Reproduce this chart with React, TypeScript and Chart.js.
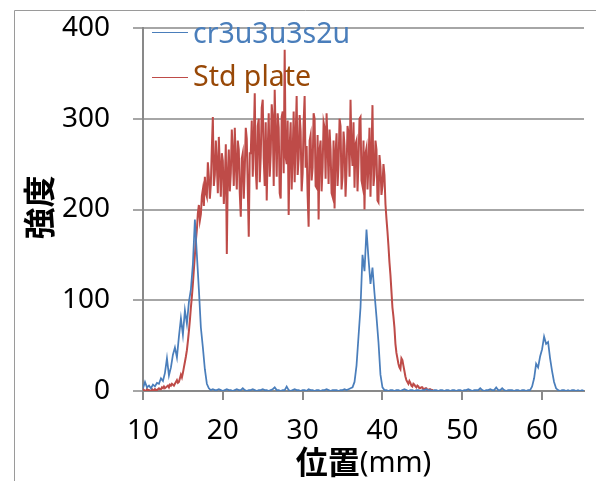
import React, { useEffect, useRef } from "react";
import { Chart, registerables } from "chart.js";

Chart.register(...registerables);

// sampling grids of the two profiles (mm)
const X_START = 10;
const BLUE_STEP = 0.25;
const RED_STEP = 0.125;
const X_MIN = 10;
const X_MAX = 65.25;
const xTicks = [10, 20, 30, 40, 50, 60];
const yTicks = [0, 100, 200, 300, 400];
const seriesNames = ["cr3u3u3s2u", "Std plate"];
const xTitleMain = "位置";
const xTitleUnit = "(mm)";
const yTitle = "強度";

// cr3u3u3s2u intensity, 10.00 mm .. 65.25 mm every 0.25 mm
const blueValues = [
  3, 10, 4, 6, 3, 7, 5, 9, // 10
  8, 14, 11, 20, 36, 17, 26, 40, // 12
  48, 37, 60, 80, 62, 89, 74, 98, // 14
  112, 140, 189, 150, 112, 70, 48, 24, // 16
  8, 3, 1, 2, 1, 1, 2, 1, // 18
  0, 1, 2, 1, 1, 0, 1, 2, // 20
  1, 1, 3, 1, 0, 1, 1, 2, // 22
  1, 0, 1, 1, 2, 1, 1, 0, // 24
  1, 2, 4, 1, 1, 0, 1, 1, // 26
  5, 1, 0, 1, 2, 1, 1, 0, // 28
  1, 1, 0, 2, 1, 1, 0, 1, // 30
  1, 0, 1, 1, 2, 1, 0, 1, // 32
  1, 1, 0, 1, 1, 2, 1, 2, // 34
  3, 4, 10, 28, 60, 92, 150, 132, // 36
  178, 146, 118, 136, 108, 82, 54, 18, // 38
  4, 1, 1, 0, 1, 1, 0, 1, // 40
  1, 0, 1, 2, 1, 0, 1, 1, // 42
  0, 1, 1, 0, 1, 1, 2, 1, // 44
  1, 0, 1, 1, 0, 1, 1, 0, // 46
  1, 1, 0, 1, 1, 0, 1, 1, // 48
  0, 1, 1, 2, 1, 0, 1, 1, // 50
  1, 3, 1, 0, 1, 1, 2, 1, // 52
  1, 4, 1, 1, 3, 1, 0, 1, // 54
  1, 1, 0, 1, 1, 0, 1, 1, // 56
  0, 1, 1, 5, 14, 30, 26, 38, // 58
  46, 60, 52, 54, 36, 22, 10, 3, // 60
  1, 0, 1, 1, 0, 1, 0, 1, // 62
  1, 0, 1, 0, 1, 0, // 64
];

// Std plate intensity, 10.000 mm .. 46.500 mm every 0.125 mm
const redValues = [
  0, 1, 0, 0, 2, 1, 1, 0, 0, 2, 1, 0, 2, 1, 1, 2, // 10
  3, 2, 2, 4, 3, 5, 3, 4, 5, 6, 4, 7, 6, 8, 7, 6, // 12
  8, 10, 12, 9, 10, 14, 18, 15, 20, 26, 32, 38, 45, 55, 66, 78, // 14
  92, 104, 118, 134, 150, 166, 178, 196, 205, 188, 195, 215, 222, 204, 236, 218, // 16
  214, 252, 236, 212, 228, 268, 302, 226, 238, 276, 250, 218, 280, 246, 214, 262, // 18
  254, 206, 232, 272, 151, 240, 266, 220, 240, 288, 262, 226, 290, 250, 222, 276, // 20
  266, 218, 192, 256, 262, 212, 244, 290, 278, 224, 170, 262, 262, 298, 236, 276, // 22
  328, 244, 222, 292, 300, 230, 258, 312, 321, 256, 226, 296, 210, 266, 306, 236, // 24
  262, 316, 300, 226, 332, 282, 236, 306, 290, 218, 212, 302, 308, 240, 376, 258, // 26
  250, 298, 194, 270, 296, 222, 262, 308, 230, 280, 325, 238, 256, 304, 286, 220, // 28
  240, 296, 325, 246, 270, 216, 181, 276, 282, 232, 246, 306, 300, 226, 224, 282, // 30
  189, 266, 276, 220, 246, 296, 290, 234, 306, 272, 228, 288, 266, 218, 214, 276, // 32
  201, 262, 284, 226, 250, 300, 292, 222, 236, 286, 270, 214, 244, 292, 284, 236, // 34
  321, 266, 248, 296, 224, 272, 276, 220, 254, 300, 302, 232, 226, 276, 200, 262, // 36
  268, 222, 250, 290, 214, 262, 315, 226, 238, 276, 266, 210, 208, 260, 247, 216, // 38
  226, 250, 238, 206, 190, 176, 160, 142, 128, 110, 92, 82, 70, 52, 42, 36, // 40
  30, 26, 24, 36, 34, 28, 22, 16, 12, 10, 8, 11, 9, 6, 5, 8, // 42
  7, 5, 4, 6, 5, 3, 3, 4, 4, 2, 2, 3, 3, 1, 1, 2, // 44
  2, 1, 1, 0, 0, // 46
];

const BLUE = "#4a7ebb";
const RED = "#be4b48";
const BLUE_TEXT = "#4a7ebb";
const RED_TEXT = "#984807";
const LATIN = '"Noto Sans", "DejaVu Sans", sans-serif';
const CJK = '"Noto Sans CJK JP", "Noto Sans CJK SC", sans-serif';

const toPoints = (vals: number[], step: number) =>
  vals.map((y, i) => ({ x: X_START + i * step, y }));

const decor = {
  id: "decor",
  beforeDraw(chart: any) {
    const ctx = chart.ctx;
    ctx.save();
    ctx.strokeStyle = "#9a9a9a";
    ctx.lineWidth = 1;
    ctx.beginPath();
    ctx.moveTo(14.5, chart.height);
    ctx.lineTo(14.5, 10.5);
    ctx.lineTo(chart.width, 10.5);
    ctx.stroke();
    ctx.restore();
  },
  afterDraw(chart: any) {
    const { ctx, chartArea } = chart;
    ctx.save();
    // legend
    const items = [
      { name: seriesNames[0], line: BLUE, text: BLUE_TEXT, y: 32.5, base: 43 },
      { name: seriesNames[1], line: RED, text: RED_TEXT, y: 77.5, base: 86 },
    ];
    ctx.font = `28.5px ${LATIN}`;
    ctx.textAlign = "left";
    ctx.textBaseline = "alphabetic";
    for (const it of items) {
      ctx.strokeStyle = it.line;
      ctx.lineWidth = 1;
      ctx.beginPath();
      ctx.moveTo(chartArea.left + 9, it.y);
      ctx.lineTo(chartArea.left + 45, it.y);
      ctx.stroke();
      ctx.fillStyle = it.text;
      ctx.fillText(it.name, chartArea.left + 50, it.base);
    }
    // x title
    const cx = (chartArea.left + chartArea.right) / 2;
    ctx.fillStyle = "#000";
    ctx.font = `bold 32px ${CJK}`;
    const w1 = ctx.measureText(xTitleMain).width;
    ctx.font = `29px ${LATIN}`;
    const w2 = ctx.measureText(xTitleUnit).width;
    const sx = cx - (w1 + w2) / 2;
    ctx.font = `bold 32px ${CJK}`;
    ctx.fillText(xTitleMain, sx, 474);
    ctx.font = `29px ${LATIN}`;
    ctx.fillText(xTitleUnit, sx + w1, 472);
    // y title
    ctx.translate(39, (chartArea.top + chartArea.bottom) / 2 - 2);
    ctx.rotate(-Math.PI / 2);
    ctx.font = `bold 32px ${CJK}`;
    ctx.textAlign = "center";
    ctx.textBaseline = "middle";
    ctx.fillText(yTitle, 0, 0);
    ctx.restore();
  },
};

export default function App() {
  const ref = useRef<HTMLCanvasElement>(null);
  useEffect(() => {
    if (!ref.current) return;
    const chart = new Chart(ref.current, {
      type: "line",
      data: {
        datasets: [
          {
            label: seriesNames[0],
            data: toPoints(blueValues, BLUE_STEP),
            borderColor: BLUE,
            borderWidth: 1.75,
            pointRadius: 0,
            tension: 0,
          },
          {
            label: seriesNames[1],
            data: toPoints(redValues, RED_STEP),
            borderColor: RED,
            borderWidth: 2,
            pointRadius: 0,
            tension: 0,
          },
        ],
      },
      options: {
        animation: false,
        responsive: false,
        devicePixelRatio: 1,
        layout: { padding: { left: 0, right: 12, top: 28, bottom: 0 } },
        plugins: {
          legend: { display: false },
          tooltip: { enabled: false },
        },
        scales: {
          x: {
            type: "linear",
            min: X_MIN,
            max: X_MAX,
            afterBuildTicks: (scale: any) => {
              scale.ticks = xTicks.map((v) => ({ value: v }));
            },
            afterFit: (scale: any) => {
              scale.height = 90;
              scale.paddingLeft = 0;
              scale.paddingRight = 0;
            },
            ticks: {
              stepSize: 10,
              color: "#000",
              font: { size: 28, family: LATIN },
              padding: 14,
              maxRotation: 0,
            },
            grid: {
              display: true,
              drawOnChartArea: false,
              drawTicks: true,
              tickLength: 9,
              color: "#898989",
              lineWidth: 2,
            },
            border: { display: true, color: "#898989", width: 2 },
          },
          y: {
            type: "linear",
            min: 0,
            max: 400,
            afterBuildTicks: (scale: any) => {
              scale.ticks = yTicks.map((v) => ({ value: v }));
            },
            afterFit: (scale: any) => {
              scale.width = 143;
              scale.paddingTop = 0;
              scale.paddingBottom = 0;
            },
            ticks: {
              stepSize: 100,
              color: "#000",
              font: { size: 28, family: LATIN },
              padding: 23,
            },
            grid: {
              color: "#a6a6a6",
              lineWidth: 2,
              tickLength: 10,
            },
            border: { display: true, color: "#898989", width: 2 },
          },
        },
      },
      plugins: [decor],
    });
    return () => chart.destroy();
  }, []);
  return (
    <div style={{ position: "fixed", left: 0, top: 0, width: 596, height: 481, overflow: "hidden", background: "#fff" }}>
      <canvas ref={ref} width={596} height={481} style={{ display: "block" }} />
    </div>
  );
}
